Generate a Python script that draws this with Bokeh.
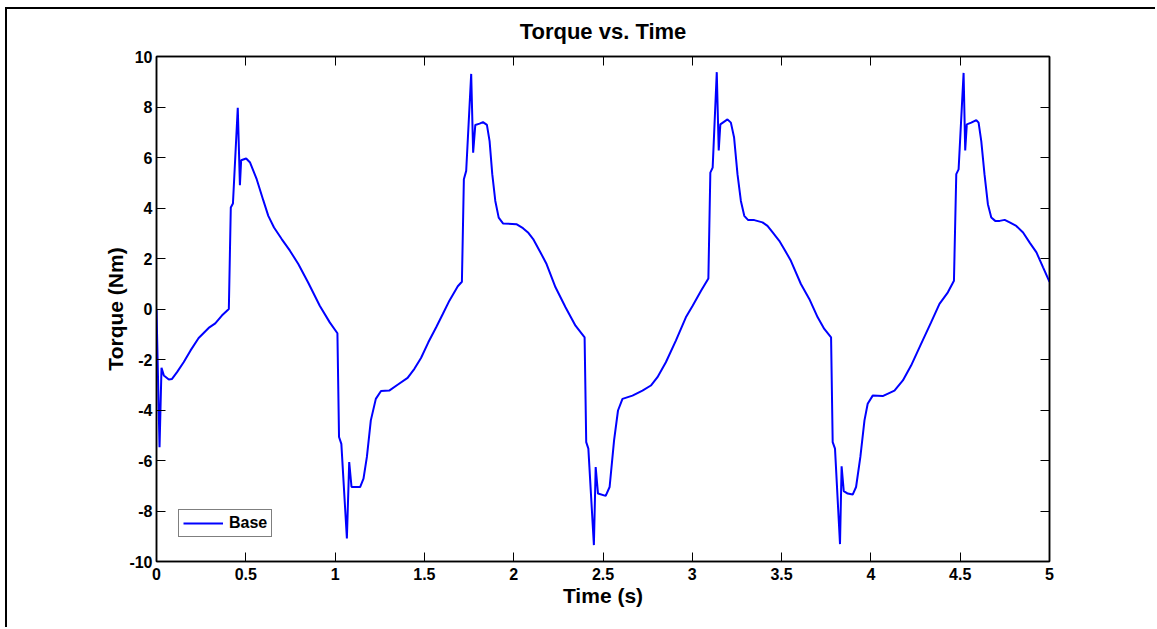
from bokeh.plotting import figure
from bokeh.models import (LinearAxis, FixedTicker, Range1d, Legend, LegendItem,
                          ColumnDataSource, CustomLabelingPolicy)
from bokeh.embed import file_html
from bokeh.resources import INLINE

# ---- data ----
time_s = [
    0.000, 0.017, 0.028, 0.041, 0.069, 0.087, 0.115, 0.152, 0.190, 0.236,
    0.292, 0.329, 0.366, 0.405, 0.416, 0.428, 0.455, 0.467, 0.474, 0.502,
    0.524, 0.561, 0.599, 0.626, 0.658, 0.701, 0.747, 0.794, 0.849, 0.914,
    0.970, 1.013, 1.022, 1.035, 1.066, 1.079,
    1.092, 1.116, 1.140, 1.159, 1.178, 1.200, 1.228, 1.257, 1.303, 1.350,
    1.406, 1.444, 1.481, 1.522, 1.566, 1.603, 1.640, 1.687, 1.710, 1.721,
    1.734, 1.762, 1.773, 1.785, 1.809, 1.828, 1.850, 1.865, 1.880, 1.897,
    1.916, 1.940, 2.015, 2.052, 2.080, 2.109, 2.150,
    2.184, 2.234, 2.290, 2.346, 2.397, 2.406, 2.418, 2.449, 2.459, 2.472,
    2.515, 2.537, 2.562, 2.584, 2.609, 2.665, 2.721, 2.768, 2.805, 2.852,
    2.908, 2.964, 3.002, 3.049, 3.090, 3.101, 3.114, 3.137, 3.148, 3.157,
    3.197, 3.216, 3.234, 3.253, 3.272, 3.291, 3.313, 3.347, 3.393, 3.421,
    3.450, 3.487, 3.515, 3.552, 3.608, 3.655, 3.702, 3.739, 3.777, 3.786,
    3.799, 3.827, 3.836, 3.848, 3.870, 3.898, 3.917, 3.941, 3.964, 3.982,
    4.010, 4.066, 4.132, 4.179, 4.225, 4.281, 4.337, 4.384, 4.431, 4.465,
    4.478, 4.491, 4.519, 4.528, 4.537, 4.562, 4.590, 4.603, 4.618, 4.636,
    4.655, 4.674, 4.696, 4.721, 4.749, 4.777, 4.814, 4.852, 4.889, 4.927,
    4.964, 5.000,
]
torque_nm = [
    0.00, -5.47, -2.33, -2.63, -2.79, -2.77, -2.50, -2.11, -1.65, -1.15,
    -0.75, -0.57, -0.26, 0.00, 4.02, 4.18, 7.97, 4.90, 5.89, 5.96,
    5.80, 5.14, 4.28, 3.69, 3.23, 2.77, 2.31, 1.78, 1.05, 0.13,
    -0.53, -0.96, -5.07, -5.34, -9.09, -6.06,
    -7.05, -7.05, -7.05, -6.72, -5.86, -4.41, -3.56, -3.25, -3.23, -3.00,
    -2.73, -2.37, -1.94, -1.32, -0.72, -0.20, 0.33, 0.90, 1.08, 5.14,
    5.47, 9.31, 6.19, 7.29, 7.34, 7.40, 7.29, 6.65, 5.34, 4.28,
    3.62, 3.39, 3.36, 3.20, 3.03, 2.77, 2.24,
    1.78, 0.86, 0.07, -0.66, -1.12, -5.27, -5.53, -9.35, -6.26, -7.31,
    -7.40, -7.05, -5.20, -4.02, -3.56, -3.43, -3.23, -3.03, -2.70, -2.11,
    -1.25, -0.33, 0.13, 0.72, 1.21, 5.40, 5.60, 9.38, 6.28, 7.31,
    7.51, 7.38, 6.79, 5.34, 4.28, 3.69, 3.52, 3.52, 3.43, 3.29,
    3.03, 2.70, 2.37, 1.91, 0.99, 0.40, -0.33, -0.79, -1.12, -5.27,
    -5.53, -9.31, -6.23, -7.21, -7.31, -7.35, -7.05, -5.86, -4.41, -3.75,
    -3.43, -3.45, -3.23, -2.83, -2.24, -1.38, -0.53, 0.20, 0.66, 1.12,
    5.34, 5.53, 9.35, 6.28, 7.31, 7.38, 7.48, 7.38, 6.65, 5.34,
    4.15, 3.62, 3.49, 3.49, 3.53, 3.43, 3.29, 3.03, 2.63, 2.24,
    1.65, 1.08,
]
x_ticks = [0, 0.5, 1, 1.5, 2, 2.5, 3, 3.5, 4, 4.5, 5]
x_tick_labels = ["0", "0.5", "1", "1.5", "2", "2.5", "3", "3.5", "4", "4.5", "5"]
y_ticks = [-10, -8, -6, -4, -2, 0, 2, 4, 6, 8, 10]
y_tick_labels = ["-10", "-8", "-6", "-4", "-2", "0", "2", "4", "6", "8", "10"]
series_name = "Base"

FONT = "Liberation Sans"

p = figure(width=1150, height=620, output_backend="svg", toolbar_location=None,
           x_range=Range1d(0, 5), y_range=Range1d(-10, 10),
           x_axis_type=None, y_axis_type=None,
           min_border_left=149, min_border_right=108,
           min_border_top=47, min_border_bottom=68,
           background_fill_color="white", border_fill_color="white")

# outer figure frame (top and left edges, as in the reference)
p.styles = {"border-top": "2px solid black", "border-left": "2px solid black",
            "margin-left": "5px", "margin-top": "7px"}

p.title.text = "Torque vs. Time"
p.title.align = "center"
p.title.text_font = FONT
p.title.text_font_size = "22px"
p.title.text_font_style = "bold"
p.title.text_color = "black"
p.title.standoff = -5

p.outline_line_color = "black"
p.outline_line_width = 1.5
p.xgrid.visible = False
p.ygrid.visible = False

no_labels = CustomLabelingPolicy(code="""
    for (const i of indices) indices.unset(i)
    return indices
""")


def style_axis(ax, ticks, labels, show_labels):
    ax.ticker = FixedTicker(ticks=ticks)
    ax.major_label_overrides = {t: l for t, l in zip(ticks, labels)}
    ax.major_tick_in = 9
    ax.major_tick_out = 0
    ax.major_tick_line_color = "black"
    ax.major_tick_line_width = 1
    ax.minor_tick_line_color = None
    ax.axis_line_color = "black"
    ax.axis_line_width = 1.5
    ax.major_label_text_font = FONT
    ax.major_label_text_font_style = "bold"
    ax.major_label_text_color = "black"
    ax.major_label_text_font_size = "16px"
    if not show_labels:
        ax.major_label_policy = no_labels
        ax.major_label_standoff = 0


xb = LinearAxis()
style_axis(xb, x_ticks, x_tick_labels, True)
xb.major_label_standoff = 6
xb.axis_label = "Time (s)"
xb.axis_label_text_font = FONT
xb.axis_label_text_font_size = "21px"
xb.axis_label_text_font_style = "bold"
xb.axis_label_text_color = "black"
xb.axis_label_standoff = 1
p.add_layout(xb, "below")

yl = LinearAxis()
style_axis(yl, y_ticks, y_tick_labels, True)
yl.major_label_standoff = 4
yl.axis_label = "Torque (Nm)"
yl.axis_label_text_font = FONT
yl.axis_label_text_font_size = "21px"
yl.axis_label_text_font_style = "bold"
yl.axis_label_text_color = "black"
yl.axis_label_standoff = -1
p.add_layout(yl, "left")

xt = LinearAxis()
style_axis(xt, x_ticks, x_tick_labels, False)
p.add_layout(xt, "above")

yr = LinearAxis()
style_axis(yr, y_ticks, y_tick_labels, False)
p.add_layout(yr, "right")

src = ColumnDataSource(dict(t=time_s, v=torque_nm))
r = p.line("t", "v", source=src, line_color="#0000ff", line_width=2)

legend = Legend(items=[LegendItem(label=series_name, renderers=[r])],
                location=(22, 24))
legend.border_line_color = "black"
legend.border_line_width = 1
legend.background_fill_color = "white"
legend.background_fill_alpha = 1
legend.padding = 4
legend.margin = 0
legend.glyph_width = 40
legend.glyph_height = 12
legend.label_height = 12
legend.label_standoff = 6
legend.label_text_font = FONT
legend.label_text_font_size = "16px"
legend.label_text_font_style = "bold"
legend.label_text_color = "black"
legend.label_text_baseline = "middle"
p.add_layout(legend)

open("out.html", "w").write(file_html(p, INLINE))
